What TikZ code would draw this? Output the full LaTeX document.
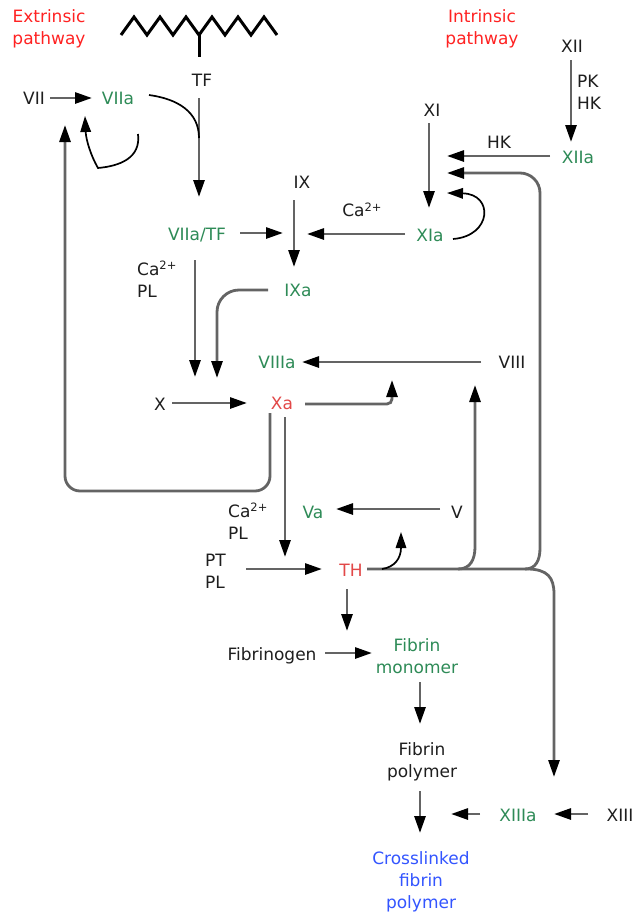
\documentclass[tikz,border=0pt]{standalone}
\usepackage{fontspec}
\setmainfont{DejaVu Sans}
\usetikzlibrary{arrows.meta}
\definecolor{lc}{RGB}{100,100,100}
\definecolor{gr}{RGB}{46,139,87}
\definecolor{rd}{RGB}{255,34,34}
\definecolor{rl}{RGB}{226,72,72}
\definecolor{bl}{RGB}{51,85,255}
\definecolor{tx}{RGB}{30,30,30}
\newcommand{\sqp}{\raisebox{5.5pt}{\fontsize{11.5}{12}\selectfont 2+}}
\begin{document}
\begin{tikzpicture}[x=1pt,y=-1pt,
  lab/.style={inner sep=0pt, font=\fontsize{17}{22}\selectfont, text=tx, align=center},
  grn/.style={lab,text=gr},
  redt/.style={lab,text=rd},
  redl/.style={lab,text=rl},
  blu/.style={lab,text=bl},
  lft/.style={lab,anchor=west,align=left},
  arr/.style={draw=lc, line width=2.8pt, -{Triangle[length=17pt,width=11pt,color=black]}},
  carr/.style={draw=black, line width=1.7pt, -{Triangle[length=16pt,width=10.5pt]}},
  cln/.style={draw=black, line width=1.7pt},
  zig/.style={draw=black, line width=3pt, line join=miter}]
\useasboundingbox (0,0) rectangle (637,913);
\fill[white] (0,0) rectangle (637,913);

% ---- text nodes
\node[redt] (ext) at (49,29) {Extrinsic\\pathway};
\node[redt] (int) at (482,29) {Intrinsic\\pathway};
\node[lab] (tf) at (202,80) {TF};
\node[lab] (vii) at (34,98) {VII};
\node[grn] (viia) at (118,98) {VIIa};
\node[lab] (xii) at (572,46) {XII};
\node[lft] (pkhk) at (577,92) {PK\\HK};
\node[grn] (xiia) at (578,157) {XIIa};
\node[lab] (hk) at (499,142) {HK};
\node[lab] (xi) at (432,110) {XI};
\node[lab] (ix) at (302,182) {IX};
\node[grn] (viiatf) at (197,235) {VIIa/TF};
\node[lft] (ca1) at (137,279) {Ca\sqp\\PL};
\node[lab] (ca2) at (362,210) {Ca\sqp};
\node[grn] (xia) at (430,235) {XIa};
\node[grn] (ixa) at (298,290) {IXa};
\node[grn] (viiia) at (277,362) {VIIIa};
\node[lab] (viii) at (512,362) {VIII};
\node[lab] (x) at (160,404) {X};
\node[redl] (xa) at (282,403) {Xa};
\node[lft] (ca3) at (228,521) {Ca\sqp\\PL};
\node[grn] (va) at (313,512) {Va};
\node[lab] (v) at (457,512) {V};
\node[lft] (ptpl) at (205,571) {PT\\PL};
\node[redl] (th) at (351,570) {TH};
\node[lab] (fgen) at (272,656) {Fibrinogen};
\node[grn] (fmono) at (417,656) {Fibrin\\monomer};
\node[lab] (fpoly) at (422,762) {Fibrin\\polymer};
\node[grn] (xiiia) at (518,815) {XIIIa};
\node[lab] (xiii) at (620,815) {XIII};
\node[blu] (cross) at (421,882) {Crosslinked\\fibrin\\polymer};

% ---- membrane zigzag with TF stem
\draw[zig] (121,35) -- (134,17) -- (147,35) -- (160,17) -- (173,35) -- (186,17)
  -- (199,35) -- (212,17) -- (225,35) -- (238,17) -- (251,35) -- (264,17) -- (277,35);
\coordinate (stemb) at (199,35);
\coordinate (steme) at (199,57);
\draw[zig] (stemb) -- (steme);

% ---- connector end points
\path (50,98) coordinate (viiE) (92,98) coordinate (viiaW)
  (199,98) coordinate (tfS) (199,197) coordinate (viiatfN)
  (149,95) coordinate (viiaE) (199,138) coordinate (tfJ)
  (138,134) coordinate (viiaL1) (98,168) coordinate (viiaL2) (85,116) coordinate (viiaL3)
  (65,125) coordinate (viiS)
  (240,233) coordinate (viiatfE) (283,233) coordinate (ixJ)
  (294,200) coordinate (ixS) (294,267) coordinate (ixaN)
  (405,234) coordinate (xiaW) (307,234) coordinate (ixJr)
  (429,123) coordinate (xiS) (429,208) coordinate (xiaN)
  (571,60) coordinate (xiiS) (571,142) coordinate (xiiaN)
  (550,156) coordinate (xiiaW) (447,156) coordinate (xiT1)
  (447,173) coordinate (xiT2) (447,193) coordinate (xiT3)
  (453,239) coordinate (xiaE)
  (195,260) coordinate (viiatfS) (195,377) coordinate (xT1)
  (268,290) coordinate (ixaW) (217,378) coordinate (xT2)
  (481,362) coordinate (viiiW) (302,362) coordinate (viiiaE)
  (172,403) coordinate (xE) (247,403) coordinate (xaW)
  (305,404) coordinate (xaE) (392,380) coordinate (viiiT)
  (270,413) coordinate (xaS1) (285,417) coordinate (xaS2) (285,557) coordinate (thN)
  (440,509) coordinate (vW) (336,509) coordinate (vaE)
  (246,569) coordinate (ptE) (322,569) coordinate (thW)
  (367,569) coordinate (thE) (382,569) coordinate (thB1) (401,532) coordinate (vaT)
  (458,569) coordinate (thB2) (475,385) coordinate (viiiS)
  (525,569) coordinate (thB3) (554,777) coordinate (xiiiaN)
  (347,589) coordinate (thS) (347,631) coordinate (fmT)
  (325,653) coordinate (fgenE) (372,653) coordinate (fmonoW)
  (420,682) coordinate (fmonoS) (420,724) coordinate (fpolyN)
  (420,791) coordinate (fpolyS) (420,833) coordinate (crossN)
  (588,814) coordinate (xiiiW) (554,814) coordinate (xiiiaE)
  (480,814) coordinate (xiiiaW) (451,814) coordinate (fpT);

% ---- extrinsic
\draw[arr] (viiE) -- (viiaW);
\draw[arr] (tfS) -- (viiatfN);
\draw[cln] (viiaE) .. controls (178,99) and (199,112) .. (tfJ);
\draw[carr] (viiaL1) .. controls (141,158) and (120,166) .. (viiaL2)
  .. controls (91,156) and (86,140) .. (viiaL3);
\draw[arr] (viiatfE) -- (ixJ);
\draw[arr] (viiatfS) -- (xT1);
% ---- intrinsic
\draw[arr] (xiiS) -- (xiiaN);
\draw[arr] (xiiaW) -- (xiT1);
\draw[arr] (xiS) -- (xiaN);
\draw[carr] (xiaE) .. controls (492,236) and (494,194) .. (xiT3);
\draw[arr] (xiaW) -- (ixJr);
\draw[arr] (ixS) -- (ixaN);
\draw[arr, rounded corners=22pt] (ixaW) -- (217,290) -- (xT2);
% ---- common
\draw[arr] (viiiW) -- (viiiaE);
\draw[arr] (xE) -- (xaW);
\draw[arr, rounded corners=5pt] (xaE) -- (392,404) -- (viiiT);
\draw[arr, rounded corners=15pt] (xaS1) -- (270,491) -- (65,491) -- (viiS);
\draw[arr] (xaS2) -- (thN);
\draw[arr] (vW) -- (vaE);
\draw[arr] (ptE) -- (thW);
\draw[arr] (thE) -- (527,569) .. controls (548,569) and (554,578) .. (554,594) -- (xiiiaN);
\draw[carr] (thB1) .. controls (395,567) and (401,558) .. (vaT);
\draw[arr] (thB2) .. controls (470,569) and (475,560) .. (475,547) -- (viiiS);
\draw[arr] (thB3) .. controls (536,569) and (540,560) .. (540,548)
  [rounded corners=20pt] -- (540,173) -- (xiT2);
\draw[arr] (thS) -- (fmT);
\draw[arr] (fgenE) -- (fmonoW);
\draw[arr] (fmonoS) -- (fpolyN);
\draw[arr] (fpolyS) -- (crossN);
\draw[arr] (xiiiW) -- (xiiiaE);
\draw[arr] (xiiiaW) -- (fpT);
\end{tikzpicture}
\end{document}
